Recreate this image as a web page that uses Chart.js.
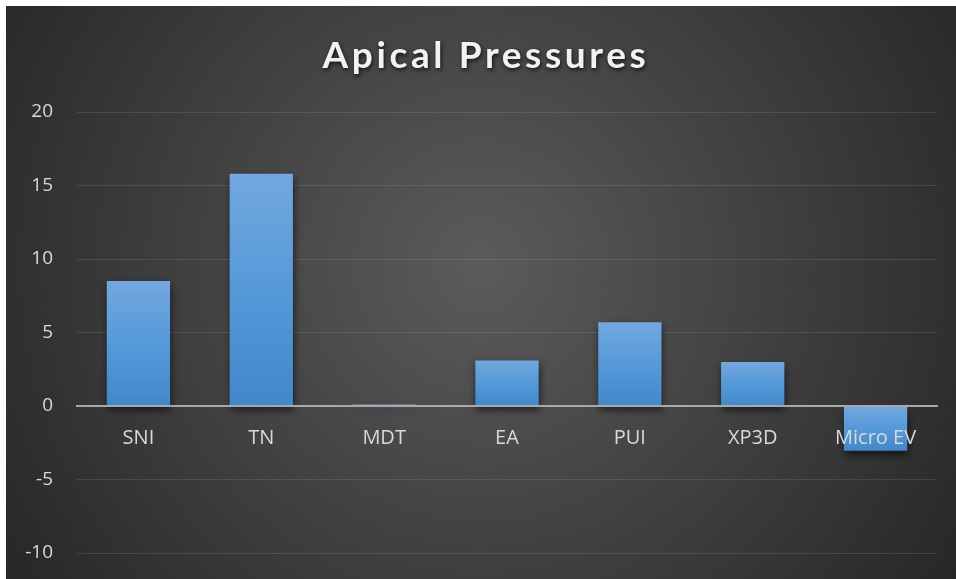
<!DOCTYPE html>
<html>
<head>
<meta charset="utf-8">
<script src="https://cdn.jsdelivr.net/npm/chart.js@4.4.1/dist/chart.umd.min.js"></script>
<style>
  html, body { margin: 0; padding: 0; background: #ffffff; }
  #wrap { position: absolute; left: 6px; top: 6px; width: 950px; height: 573px; }
</style>
</head>
<body>
<div id="wrap"><canvas id="chart"></canvas></div>
<script>
// chart data
const titleText = 'Apical Pressures';
const categories = ['SNI', 'TN', 'MDT', 'EA', 'PUI', 'XP3D', 'Micro EV'];
const pressures = [8.5, 15.8, 0.1, 3.1, 5.7, 3.0, -3.05];
const yMin = -10;
const yMax = 20;
const yStep = 5;

// radial background like the office chart style
const backgroundPlugin = {
    id: 'darkBackground',
    beforeDraw(chart) {
        const { ctx, width, height } = chart;
        const g = ctx.createRadialGradient(width / 2, 260, 0, width / 2, 260, 600);
        g.addColorStop(0, '#5b5b5b');
        g.addColorStop(1, '#242424');
        ctx.save();
        ctx.fillStyle = g;
        ctx.fillRect(0, 0, width, height);
        ctx.restore();
    }
};

// soft shadow under the bars
const shadowPlugin = {
    id: 'barShadow',
    beforeDatasetsDraw(chart) {
        const ctx = chart.ctx;
        ctx.save();
        ctx.shadowColor = 'rgba(0,0,0,0.6)';
        ctx.shadowBlur = 8;
        ctx.shadowOffsetX = 1;
        ctx.shadowOffsetY = 4;
    },
    afterDatasetsDraw(chart) {
        chart.ctx.restore();
    }
};

// title with a drop shadow
const titlePlugin = {
    id: 'shadowTitle',
    afterDraw(chart) {
        const ctx = chart.ctx;
        ctx.save();
        ctx.font = 'bold 37px Lato';
        ctx.fillStyle = '#f2f2f2';
        ctx.textAlign = 'center';
        ctx.textBaseline = 'alphabetic';
        ctx.shadowColor = 'rgba(0,0,0,0.75)';
        ctx.shadowBlur = 4;
        ctx.shadowOffsetX = 1;
        ctx.shadowOffsetY = 2;
        if ('letterSpacing' in ctx) ctx.letterSpacing = '3.6px';
        ctx.fillText(titleText, chart.width / 2 + 5, 62);
        ctx.restore();
    }
};

function barFill(context) {
    const chart = context.chart;
    const y = chart.scales.y;
    if (!chart.chartArea || !y) return '#5b9bd5';
    const v = context.raw;
    const p0 = y.getPixelForValue(0);
    const p1 = y.getPixelForValue(v);
    const top = Math.min(p0, p1);
    const bottom = Math.max(p0, p1);
    if (bottom - top < 1) return '#5b9bd5';
    const g = chart.ctx.createLinearGradient(0, top, 0, bottom);
    g.addColorStop(0, '#72a8de');
    g.addColorStop(0.5, '#5599d9');
    g.addColorStop(1, '#4188ca');
    return g;
}

const yTickFont = { family: "'Open Sans'", size: 19 };
const xTickFont = { family: "'Open Sans'", size: 20 };

new Chart(document.getElementById('chart'), {
    type: 'bar',
    data: {
        labels: categories,
        datasets: [{
            label: titleText,
            data: pressures,
            backgroundColor: barFill,
            borderWidth: 0,
            barPercentage: 0.515,
            categoryPercentage: 1
        }]
    },
    plugins: [backgroundPlugin, shadowPlugin, titlePlugin],
    options: {
        responsive: true,
        maintainAspectRatio: false,
        animation: false,
        layout: { padding: { top: 106, bottom: 26, right: 19, left: 0 } },
        plugins: {
            legend: { display: false },
            title: { display: false },
            tooltip: { enabled: false }
        },
        scales: {
            x: {
                position: { y: 0 },
                afterFit(scale) { scale.height = 0; },
                grid: { display: false, drawTicks: false },
                border: { display: true, color: '#a9a9a9', width: 2, z: 1 },
                ticks: { color: '#d9d9d9', font: xTickFont, padding: 20, maxRotation: 0, z: 1 }
            },
            y: {
                min: yMin,
                max: yMax,
                afterFit(scale) {
                    scale.width = 71;
                    scale.paddingTop = 0;
                    scale.paddingBottom = 0;
                },
                grid: { color: 'rgba(255,255,255,0.1)', lineWidth: 1, drawTicks: false },
                border: { display: false },
                ticks: { stepSize: yStep, color: '#d9d9d9', font: yTickFont, padding: 24 }
            }
        }
    }
});
</script>
</body>
</html>
